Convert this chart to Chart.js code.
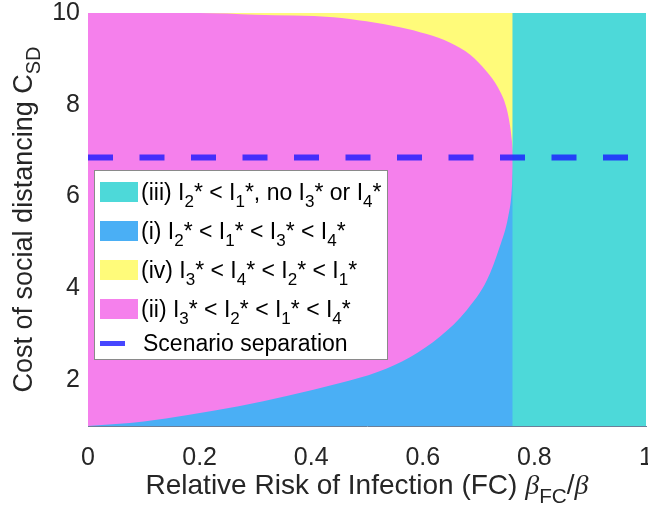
<!DOCTYPE html>
<html>
<head>
<meta charset="utf-8">
<script src="https://cdn.jsdelivr.net/npm/chart.js@4.4.1/dist/chart.umd.min.js"></script>
<style>
  html, body { margin: 0; padding: 0; background: #fff; }
  #wrap { width: 648px; height: 513px; }
</style>
</head>
<body>
<div id="wrap"><canvas id="regionChart" width="648" height="513"></canvas></div>
<script>
const xTicks = [0, 0.2, 0.4, 0.6, 0.8, 1];
const yTicks = [2, 4, 6, 8, 10];

// boundary (i) / (ii)
const lowerX = [0, 0.1, 0.179, 0.27, 0.358, 0.45, 0.52, 0.577, 0.631, 0.679, 0.715, 0.738, 0.753, 0.759, 0.7625];
const lowerY = [1.0, 1.1, 1.24, 1.43, 1.66, 1.93, 2.18, 2.50, 2.95, 3.53, 4.18, 4.91, 5.56, 6.07, 6.84];

// boundary (ii) / (iv)
const upperX = [0.20, 0.25, 0.30, 0.44, 0.499, 0.559, 0.607, 0.649, 0.685, 0.714, 0.735, 0.750, 0.757, 0.761, 0.7625];
const upperY = [10.0, 9.99, 9.96, 9.91, 9.82, 9.69, 9.54, 9.35, 9.09, 8.73, 8.37, 7.93, 7.49, 7.06, 6.84];

const switchX = 0.7625;   // past this only (iii) exists
const cMin = 1;
const cMax = 10;
const separationC = 6.85;

const legendLabels = [
  "(iii) I_{2}* < I_{1}*, no I_{3}* or I_{4}*",
  "(i) I_{2}* < I_{1}* < I_{3}* < I_{4}*",
  "(iv) I_{3}* < I_{4}* < I_{2}* < I_{1}*",
  "(ii) I_{3}* < I_{2}* < I_{1}* < I_{4}*",
  "Scenario separation"
];

const COL_III = "rgb(77,217,217)";
const COL_I = "rgb(74,175,245)";
const COL_IV = "rgb(255,251,122)";
const COL_II = "rgb(245,128,236)";
const COL_SEP = "rgba(25,25,255,0.8)";
const FONT = "'Liberation Sans', Arial, Helvetica, sans-serif";

const pts = (xs, ys) => xs.map((x, i) => ({ x: x, y: ys[i] }));

// draws "a_{b}c" style strings, subscripts shifted down
function drawRich(ctx, str, x, y, size, measureOnly) {
  const parts = str.split(/_\{([^}]*)\}/);
  let w = 0;
  parts.forEach((p, i) => {
    if (!p) return;
    const sub = i % 2 === 1;
    const s = sub ? size * 0.74 : size;
    ctx.font = `${s}px ${FONT}`;
    if (!measureOnly) ctx.fillText(p, x + w, y + (sub ? size * 0.3 : 0));
    w += ctx.measureText(p).width;
  });
  return w;
}

const legendBox = {
  id: "legendBox",
  afterDatasetsDraw(chart) {
    const ctx = chart.ctx;
    ctx.save();
    ctx.fillStyle = "#fff";
    ctx.fillRect(94.5, 170.5, 293, 189);
    ctx.strokeStyle = "#8a8a8a";
    ctx.lineWidth = 1;
    ctx.strokeRect(94.5, 170.5, 293, 189);
    const swatches = [COL_III, COL_I, COL_IV, COL_II];
    const baselines = [200, 239, 278, 317, 351];
    ctx.textBaseline = "alphabetic";
    ctx.textAlign = "left";
    legendLabels.forEach((lab, i) => {
      const b = baselines[i];
      if (i < 4) {
        ctx.fillStyle = swatches[i];
        ctx.fillRect(100, b - 18, 38, 20);
      } else {
        ctx.fillStyle = COL_SEP;
        ctx.fillRect(100, b - 10, 25, 5);
      }
      ctx.fillStyle = "#000";
      drawRich(ctx, lab, i < 4 ? 141 : 143, b, 23);
    });
    ctx.restore();
  },
  afterDraw(chart) {
    const ctx = chart.ctx;
    const area = chart.chartArea;
    ctx.save();
    ctx.fillStyle = "#262626";
    ctx.textBaseline = "alphabetic";
    ctx.textAlign = "left";
    // x title
    const size = 28;
    const head = "Relative Risk of Infection (FC) ";
    ctx.font = `${size}px ${FONT}`;
    const wHead = ctx.measureText(head).width;
    ctx.font = `italic ${size}px 'Liberation Serif', serif`;
    const wB = ctx.measureText("\u03b2").width;
    ctx.font = `${size * 0.74}px ${FONT}`;
    const wFC = ctx.measureText("FC").width;
    ctx.font = `${size}px ${FONT}`;
    const wSl = ctx.measureText("/").width;
    const total = wHead + wB * 2 + wFC + wSl;
    let x = (area.left + area.right) / 2 - total / 2;
    const yb = 494;
    ctx.font = `${size}px ${FONT}`;
    ctx.fillText(head, x, yb); x += wHead;
    ctx.font = `italic ${size}px 'Liberation Serif', serif`;
    ctx.fillText("\u03b2", x, yb); x += wB;
    ctx.font = `${size * 0.74}px ${FONT}`;
    ctx.fillText("FC", x, yb + 9); x += wFC;
    ctx.font = `${size}px ${FONT}`;
    ctx.fillText("/", x, yb); x += wSl;
    ctx.font = `italic ${size}px 'Liberation Serif', serif`;
    ctx.fillText("\u03b2", x, yb);

    // y title, rotated
    const ySize = 27;
    const yLab = "Cost of social distancing C_{SD}";
    const wy = drawRich(ctx, yLab, 0, 0, ySize, true);
    ctx.translate(32, (area.top + area.bottom) / 2);
    ctx.rotate(-Math.PI / 2);
    drawRich(ctx, yLab, -wy / 2, 0, ySize);
    ctx.restore();
  }
};

const fillSet = (label, data, color, fill, order) => ({
  label: label,
  data: data,
  backgroundColor: color,
  borderColor: color,
  borderWidth: 0,
  pointRadius: 0,
  fill: fill,
  order: order,
  cubicInterpolationMode: "monotone"
});

const cyanSet = fillSet("(iii)",
  [{ x: switchX, y: cMin }, { x: switchX, y: cMax }, { x: 1, y: cMax }], COL_III, "start", 1);
cyanSet.cubicInterpolationMode = "default";
cyanSet.tension = 0;
cyanSet.borderWidth = 2;

new Chart(document.getElementById("regionChart"), {
  type: "line",
  data: {
    datasets: [
      fillSet("(ii)", [{ x: 0, y: cMax }, { x: switchX, y: cMax }], COL_II, "start", 4),
      fillSet("(iv)", pts(upperX, upperY), COL_IV, "end", 3),
      fillSet("(i)", pts(lowerX, lowerY), COL_I, "start", 2),
      cyanSet,
      {
        label: "Scenario separation",
        data: [{ x: 0, y: separationC }, { x: 1, y: separationC }],
        borderColor: COL_SEP,
        borderWidth: 6,
        borderDash: [25, 26.5],
        borderCapStyle: "butt",
        pointRadius: 0,
        fill: false,
        order: 0
      }
    ]
  },
  options: {
    responsive: false,
    animation: false,
    devicePixelRatio: 1,
    layout: { padding: { top: 13, right: 2, left: 0, bottom: 0 } },
    plugins: {
      legend: { display: false },
      tooltip: { enabled: false }
    },
    scales: {
      x: {
        type: "linear",
        min: 0,
        max: 1,
        afterBuildTicks: s => { s.ticks = xTicks.map(v => ({ value: v })); },
        afterFit: s => { s.height = 87; s.paddingLeft = 0; s.paddingRight = 0; },
        grid: { display: false, drawTicks: false },
        border: { display: true, color: "#6b7f99", width: 1 },
        ticks: {
          font: { size: 25, family: FONT },
          color: "#262626",
          padding: 17,
          maxRotation: 0,
          callback: v => String(v)
        }
      },
      y: {
        type: "linear",
        min: cMin,
        max: cMax,
        afterBuildTicks: s => { s.ticks = yTicks.map(v => ({ value: v })); },
        afterFit: s => { s.width = 88; s.paddingTop = 0; s.paddingBottom = 0; },
        grid: { display: false, drawTicks: false },
        border: { display: false },
        ticks: {
          font: { size: 25, family: FONT },
          color: "#262626",
          padding: 8,
          callback: v => String(v)
        }
      }
    }
  },
  plugins: [legendBox]
});
</script>
</body>
</html>
